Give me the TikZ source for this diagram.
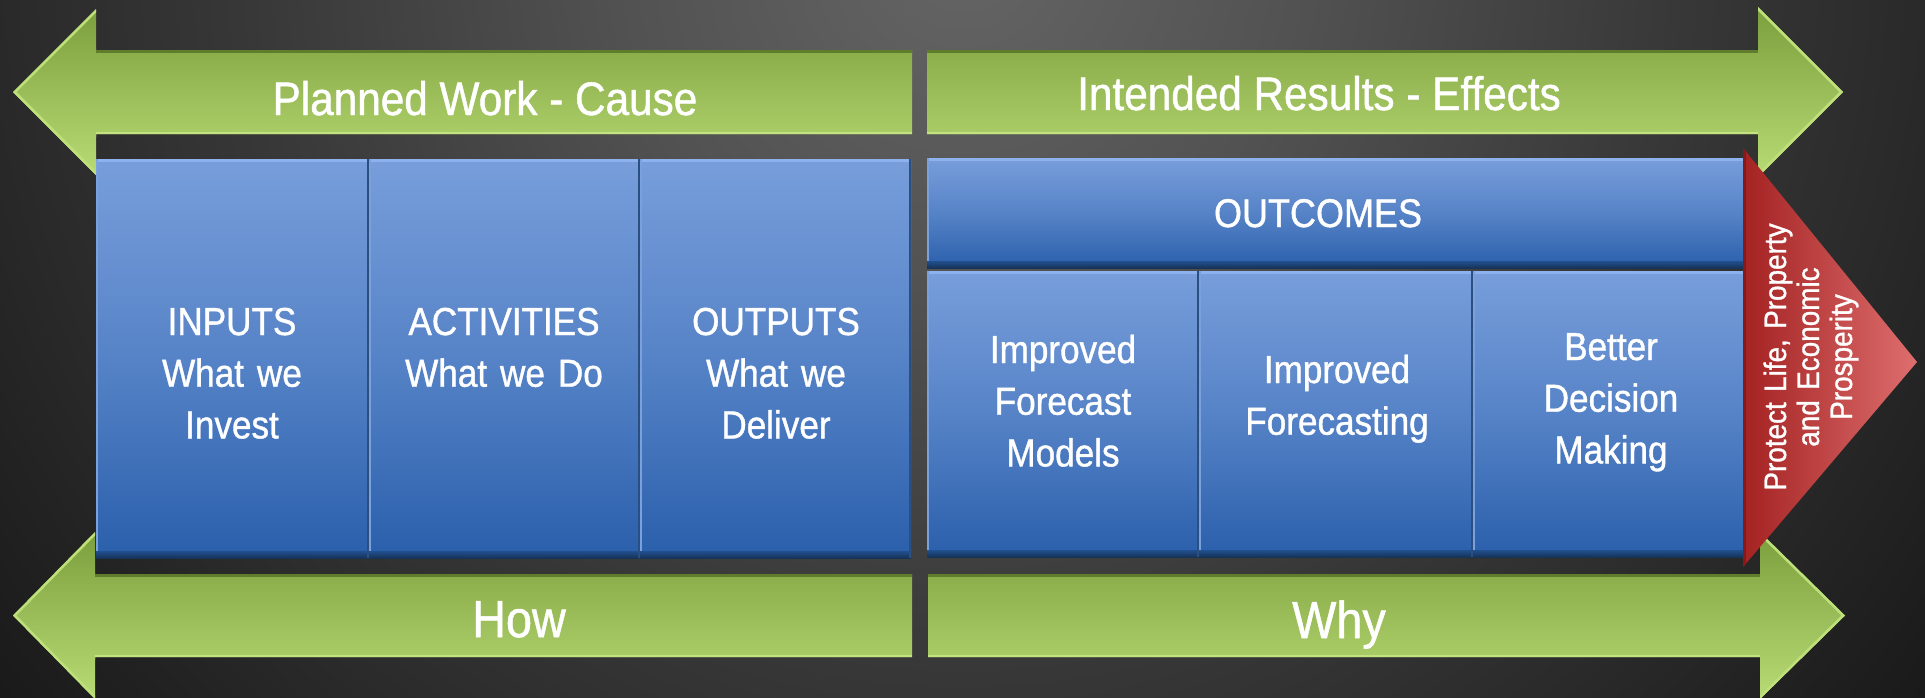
\documentclass[tikz,border=0pt]{standalone}
\usepackage{fontspec}
\setmainfont[FakeStretch=0.9, FakeBold=1]{Liberation Sans}
\usetikzlibrary{fit}
\definecolor{bgA}{HTML}{656565}
\definecolor{bgB}{HTML}{525252}
\definecolor{bgC}{HTML}{373737}
\definecolor{bgD}{HTML}{2A2A2A}
\definecolor{bgE}{HTML}{232323}
\definecolor{bgF}{HTML}{191919}
\definecolor{grtop}{HTML}{7C9F3D}
\definecolor{grbot}{HTML}{B8DB75}
\definecolor{grdark}{HTML}{5F7D2C}
\definecolor{grlight}{HTML}{C2E37F}
\definecolor{bluetop}{HTML}{789EDB}
\definecolor{bluemid}{HTML}{5683C7}
\definecolor{bluebot}{HTML}{2A5FAB}
\definecolor{bluehi}{HTML}{8DB2EE}
\definecolor{bluelt}{HTML}{7BA1DD}
\definecolor{blueedge}{HTML}{2C4F82}
\definecolor{bluedkA}{HTML}{21508F}
\definecolor{bluedkB}{HTML}{163358}
\definecolor{redL}{HTML}{A42222}
\definecolor{redR}{HTML}{DE6E6E}
\definecolor{redEdge}{HTML}{861919}
\pgfdeclareradialshading{bgshade}{\pgfpoint{0bp}{0bp}}{color(0bp)=(bgA); color(6bp)=(bgB); color(13bp)=(bgC); color(17bp)=(bgD); color(19bp)=(bgE); color(22bp)=(bgF); color(50bp)=(bgF)}
\tikzset{
  txt/.style={text=white, inner sep=0pt, align=center},
  boxtxt/.style={txt, text width=250pt, anchor=base, font=\fontsize{39pt}{51.7pt}\selectfont},
  headtxt/.style={txt, anchor=base, font=\fontsize{47pt}{56pt}\selectfont},
  bigtxt/.style={txt, anchor=base, font=\fontsize{52pt}{60pt}\selectfont},
  goaltxt/.style={txt, rotate=90, anchor=base, text width=280pt, font=\fontsize{31pt}{33pt}\selectfont},
  bluebox/.style={inner sep=0pt, outer sep=0pt, top color=bluetop, bottom color=bluebot, middle color=bluemid},
  greenfill/.style={top color=grtop, bottom color=grbot},
  grtopedge/.style={grdark, line width=5pt},
  grbotedge/.style={grlight, line width=5pt},
  grdiag/.style={grlight!60!grbot, line width=5pt},
}
\newcommand\bevel[1]{%
  \fill[bluehi] (#1.north west) rectangle ([yshift=-3pt]#1.north east);
  \fill[bluelt] (#1.north west) rectangle ([xshift=2pt]#1.south west);
  \shade[top color=bluedkA, bottom color=bluedkB] ([yshift=7pt]#1.south west) rectangle (#1.south east);
  \fill[blueedge] ([xshift=-2.5pt]#1.north east) rectangle (#1.south east);
}
\begin{document}
\begin{tikzpicture}[x=1pt, y=-1pt]
\useasboundingbox (0,0) rectangle (1925,697);
% background
\begin{scope}
  \clip (0,0) rectangle (1925,697);
  \shade[shading=bgshade] (-438,-1450) rectangle (2362,1350);
\end{scope}

% top-left arrow
\begin{scope}
  \clip (912,50) -- (96,50) -- (96,9) -- (13,92) -- (96,175) -- (96,134) -- (912,134) -- cycle;
  \shade[greenfill] (0,9) rectangle (930,175);
  \draw[grtopedge] (96,50) -- (912,50);
  \draw[grbotedge] (96,134) -- (912,134);
  \draw[grdiag] (96,9) -- (13,92) -- (96,175);
\end{scope}
% top-right arrow
\begin{scope}
  \clip (927,50) -- (1758,50) -- (1758,7) -- (1843,92) -- (1758,177) -- (1758,134) -- (927,134) -- cycle;
  \shade[greenfill] (920,7) rectangle (1850,177);
  \draw[grtopedge] (927,50) -- (1758,50);
  \draw[grbotedge] (927,134) -- (1758,134);
  \draw[grdiag] (1758,7) -- (1843,92) -- (1758,177);
\end{scope}
% bottom-left arrow
\begin{scope}
  \clip (912,574) -- (95,574) -- (95,532) -- (13,615.5) -- (95,699) -- (95,657) -- (912,657) -- cycle;
  \shade[greenfill] (0,532) rectangle (930,699);
  \draw[grtopedge] (95,574) -- (912,574);
  \draw[grbotedge] (95,657) -- (912,657);
  \draw[grdiag] (95,532) -- (13,615.5) -- (95,699);
\end{scope}
% bottom-right arrow
\begin{scope}
  \clip (928,574) -- (1760,574) -- (1760,532) -- (1845,615.5) -- (1760,699) -- (1760,657) -- (928,657) -- cycle;
  \shade[greenfill] (920,532) rectangle (1850,699);
  \draw[grtopedge] (928,574) -- (1760,574);
  \draw[grbotedge] (928,657) -- (1760,657);
  \draw[grdiag] (1760,532) -- (1845,615.5) -- (1760,699);
\end{scope}

\node[headtxt] (plan) at (485,115) {Planned Work - Cause};
\node[headtxt] (intend) at (1319,110) {Intended Results - Effects};
\node[bigtxt] (how) at (519,637) {How};
\node[bigtxt] (why) at (1339,638) {Why};

% blue boxes, left group
\node[bluebox, fit={(96,159) (369,558)}] (inputs) {};
\node[bluebox, fit={(369,159) (640,558)}] (activities) {};
\node[bluebox, fit={(640,159) (911,558)}] (outputs) {};
\bevel{inputs}
\bevel{activities}
\bevel{outputs}
% blue boxes, right group
\node[bluebox, fit={(927,158) (1745,268)}] (outcomes) {};
\node[bluebox, fit={(927,271) (1199,557)}] (models) {};
\node[bluebox, fit={(1199,271) (1473,557)}] (forecasting) {};
\node[bluebox, fit={(1473,271) (1745,557)}] (decision) {};
\bevel{outcomes}
\bevel{models}
\bevel{forecasting}
\bevel{decision}

\node[boxtxt] (tinputs) at (232,335) {INPUTS\\What we\\Invest};
\node[boxtxt] (tactivities) at (504,335) {ACTIVITIES\\What we Do};
\node[boxtxt] (toutputs) at (776,335) {OUTPUTS\\What we\\Deliver};
\node[boxtxt, font=\fontsize{40pt}{52pt}\selectfont] (toutcomes) at (1318,227) {OUTCOMES};
\node[boxtxt] (tmodels) at (1063,363) {Improved\\Forecast\\Models};
\node[boxtxt] (tforecasting) at (1337,383) {Improved\\Forecasting};
\node[boxtxt] (tdecision) at (1611,360) {Better\\Decision\\Making};

% red goal triangle
\shade[left color=redL, right color=redR] (1743,148) -- (1917,362) -- (1743,567) -- cycle;
\begin{scope}
  \clip (1743,148) -- (1917,362) -- (1743,567) -- cycle;
  \draw[redEdge, line width=6pt] (1743,148) -- (1743,567);
\end{scope}
\node[goaltxt] (goal) at (1786,357) {Protect Life, Property\\and Economic\\Prosperity};
\end{tikzpicture}
\end{document}
